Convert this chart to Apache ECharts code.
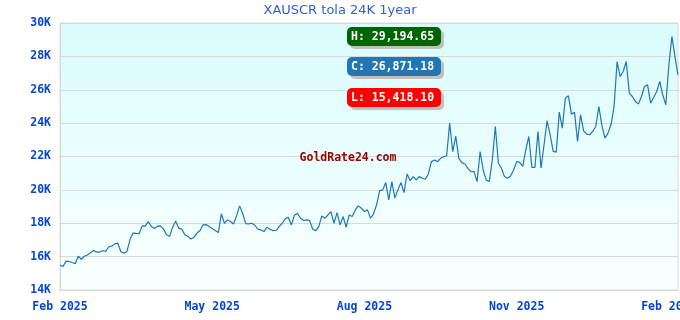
<!DOCTYPE html>
<html>
<head>
<meta charset="utf-8">
<script src="https://cdn.jsdelivr.net/npm/echarts@6/dist/echarts.min.js"></script>
<style>html,body{margin:0;padding:0;background:#fff}#c{width:680px;height:320px}</style>
</head>
<body>
<div id="c"></div>
<script>
// x tick labels (one every 50 samples)
const tickLabels = ['Feb 2025', 'May 2025', 'Aug 2025', 'Nov 2025', 'Feb 2026'];
// price samples (XAU in SCR per tola 24K), ~2 days apart
const prices = [
15480,15418.10,15726,15707,15650,15570,16020,15844,16020,16100,
16236,16373,16275,16275,16353,16314,16590,16628,16765,16804,
16295,16197,16314,17020,17412,17392,17373,17843,17823,18098,
17804,17686,17823,17843,17647,17314,17216,17765,18137,17706,
17647,17314,17216,17059,17157,17412,17569,17902,17922,17804,
17686,17569,17440,18560,18000,18200,18100,17960,18440,19040,
18600,17980,17960,18000,17880,17640,17600,17500,17760,17640,
17560,17580,17800,18000,18280,18360,17900,18480,18600,18300,
18160,18200,18160,17640,17560,17800,18440,18300,18500,18700,
18000,18640,17900,18400,17760,18500,18400,18800,19040,18900,
18700,18800,18300,18567,19105,19960,20000,20438,19403,20500,
19522,20000,20438,19840,20955,20557,20796,20597,20796,20697,
20637,20955,21692,21791,21692,21891,21990,22030,24000,22289,
23224,21891,21632,21552,21294,21095,21095,20497,22289,21194,
20597,20497,21791,23800,21592,21294,20796,20697,20836,21194,
21692,21650,21407,22404,23202,21347,21347,23500,21307,22703,
24140,23302,22304,22264,24658,23701,25496,25636,24539,24658,
22903,24499,23541,23342,23302,23501,23800,24998,23860,23102,
23401,23900,24998,27691,26793,27092,27691,25796,25596,25297,
25137,25596,26195,26294,25197,25536,25895,26494,25696,25097,
27500,29194.65,27990,26871.18
];
const yTicks = [14000, 30000, 2000];

const fmt = v => v.toLocaleString('en-US', {minimumFractionDigits: 2, maximumFractionDigits: 2});
const hi = Math.max(...prices), lo = Math.min(...prices), cur = prices[prices.length - 1];

const monoBold = 'bold 11.5px "DejaVu Sans Mono", "Liberation Mono", monospace';
function badge(label, value, y, color) {
  return [
    {type: 'rect', shape: {x: 350, y: y + 3, width: 94, height: 19, r: 5}, style: {fill: '#c0c0c0'}, z: 10},
    {type: 'rect', shape: {x: 347, y: y, width: 94, height: 19, r: 5}, style: {fill: color}, z: 11},
    {type: 'text', x: 351, y: y + 10, style: {text: label + ': ' + fmt(value), fill: '#ffffff', font: monoBold, verticalAlign: 'middle'}, z: 12}
  ];
}

const chart = echarts.init(document.getElementById('c'), null, {renderer: 'canvas'});
chart.setOption({
  animation: false,
  title: {
    text: 'XAUSCR tola 24K 1year', left: 'center', top: -1,
    textStyle: {fontFamily: 'DejaVu Sans', fontSize: 13, fontWeight: 'normal', color: '#2f5fd6'}
  },
  grid: {
    left: 60, right: 2, top: 23, bottom: 30, show: true,
    outerBoundsMode: 'none', containLabel: false,
    borderColor: '#d8d8d8', borderWidth: 1,
    backgroundColor: new echarts.graphic.LinearGradient(0, 0, 0, 1, [
      {offset: 0, color: '#dafcfc'}, {offset: 1, color: '#f9ffff'}
    ])
  },
  xAxis: {
    type: 'value', min: 0, max: prices.length - 1, interval: 50,
    axisLine: {show: true, lineStyle: {color: '#d8d8d8'}},
    axisTick: {show: false}, splitLine: {show: false},
    axisLabel: {
      margin: 11, color: '#0645cf', fontFamily: 'DejaVu Sans Mono', fontWeight: 'bold', fontSize: 11.5,
      hideOverlap: false,
      formatter: v => (v % 50 === 0 && tickLabels[v / 50]) ? tickLabels[v / 50] : ''
    }
  },
  yAxis: {
    type: 'value', min: yTicks[0], max: yTicks[1], interval: yTicks[2],
    axisLine: {show: true, lineStyle: {color: '#d8d8d8'}},
    axisTick: {show: false},
    splitLine: {show: true, lineStyle: {color: '#d8d8d8'}},
    axisLabel: {
      margin: 9, color: '#0645cf', fontFamily: 'DejaVu Sans Mono', fontWeight: 'bold', fontSize: 11.5,
      formatter: v => (v / 1000) + 'K'
    }
  },
  series: [{
    type: 'line', data: prices.map((v, i) => [i, v]),
    showSymbol: false, symbol: 'none',
    lineStyle: {width: 1.2, color: '#1f77b4'}, itemStyle: {color: '#1f77b4'}
  }],
  graphic: [].concat(
    badge('H', hi, 27, '#006400'),
    badge('C', cur, 57, '#1f77b4'),
    badge('L', lo, 88, '#ff0000'),
    [{type: 'text', x: 348, y: 158, style: {text: 'GoldRate24.com', fill: '#990000', font: monoBold, align: 'center', verticalAlign: 'middle'}, z: 12}]
  )
});
</script>
</body>
</html>
